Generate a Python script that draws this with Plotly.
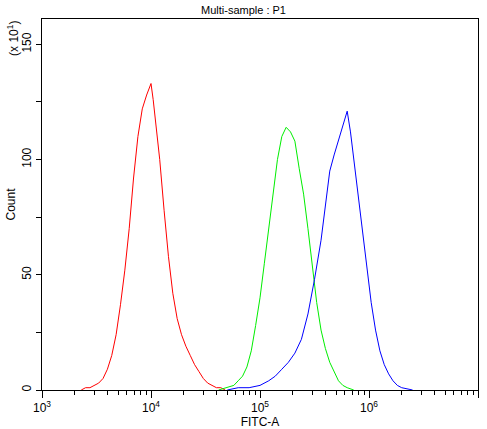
import plotly.graph_objects as go

red_x = [3.36,3.40,3.44,3.48,3.52,3.56,3.60,3.64,3.68,3.72,3.76,3.80,3.84,3.88,3.92,3.96,4.00,4.02,4.04,4.08,4.12,4.16,4.20,4.24,4.28,4.32,4.36,4.40,4.44,4.48,4.52,4.56,4.60,4.64,4.68]
red_y = [0,1,1,2,3,5,9,15,24,37,52,70,92,110,122,128,133,126,118,100,78,58,42,31,24,19,15,11,8,5,3,2,1,1,0]
green_x = [4.62,4.70,4.76,4.80,4.84,4.88,4.92,4.96,5.00,5.04,5.08,5.12,5.16,5.20,5.24,5.28,5.32,5.36,5.40,5.44,5.48,5.52,5.56,5.60,5.64,5.68,5.72,5.76,5.80,5.86]
green_y = [0,1,2,4,6,10,17,28,40,55,70,85,100,110,114,112,108,96,85,70,55,38,26,18,12,8,4,2,1,0]
blue_x = [4.70,4.80,4.90,5.00,5.08,5.14,5.20,5.26,5.32,5.38,5.44,5.50,5.56,5.60,5.64,5.68,5.72,5.76,5.80,5.83,5.86,5.90,5.94,5.98,6.02,6.06,6.10,6.14,6.18,6.22,6.26,6.30,6.40]
blue_y = [0,1,1,2,4,6,9,12,16,22,33,48,65,80,95,102,108,115,121,112,100,85,68,52,38,26,17,11,7,4,2,1,0]

minor_vals = [m * 10**e for e in range(3, 7) for m in range(2, 10)]

fig = go.Figure()
for xs, ys, c in [(red_x, red_y, "red"), (green_x, green_y, "#00ee00"), (blue_x, blue_y, "blue")]:
    fig.add_trace(go.Scatter(x=[10**v for v in xs], y=ys, mode="lines",
                             line=dict(color=c, width=1), hoverinfo="skip"))
fig.add_trace(go.Scatter(x=[1e3, 1e7], y=[0, 0], mode="lines", line=dict(width=0),
                         xaxis="x2", hoverinfo="skip"))

fig.update_layout(
    width=487, height=429, showlegend=False,
    paper_bgcolor="white", plot_bgcolor="white",
    margin=dict(l=42, r=9, t=19, b=39),
    font=dict(family="Liberation Sans, Arial", size=12, color="black"),
    title=dict(text="Multi-sample : P1", x=0.5, y=0.985, xanchor="center", yanchor="top", font=dict(size=11)),
    xaxis2=dict(type="log", range=[3, 7], overlaying="x", side="bottom", anchor="y",
                tickmode="array", tickvals=minor_vals, showticklabels=False,
                ticks="outside", ticklen=4, tickcolor="black", showgrid=False, zeroline=False,
                showline=False, automargin=False),
)
fig.layout.xaxis.update(type="log", range=[3, 7], tickvals=[1e3, 1e4, 1e5, 1e6, 1e7],
                 ticktext=["10<sup>3</sup>", "10<sup>4</sup>", "10<sup>5</sup>", "10<sup>6</sup>", "10<sup>7</sup>"],
                 ticks="outside", ticklen=7, tickwidth=1, tickcolor="black", automargin=False,
                 showline=True, linecolor="black", linewidth=1, mirror=True, showgrid=False, zeroline=False,
                 title=dict(text="FITC-A", font=dict(size=12), standoff=2))
fig.layout.yaxis.update(range=[0, 161], tickvals=[0, 50, 100, 150], tickangle=270, automargin=False,
                 ticks="outside", ticklen=5, tickwidth=1, tickcolor="black",
                 minor=dict(dtick=25, tick0=0, ticks="outside", ticklen=5, tickcolor="black", showgrid=False),
                 showline=True, linecolor="black", linewidth=1, mirror=True, showgrid=False, zeroline=False,
                 title=dict(text="Count", font=dict(size=12), standoff=2))
fig.add_annotation(text="(x 10<sup>1</sup>)", xref="paper", yref="paper", x=-0.045, y=1.0,
                   xanchor="right", yanchor="top", textangle=-90, showarrow=False, font=dict(size=12))
fig.write_html("out.html", config={"displayModeBar": False},
               post_script="document.body.style.margin='0';")
